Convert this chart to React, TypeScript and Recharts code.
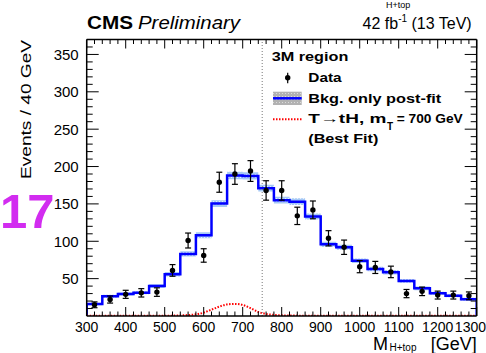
import React from 'react';
import {
  ComposedChart,
  Line,
  Area,
  Scatter,
  ErrorBar,
  XAxis,
  YAxis,
  ReferenceLine,
} from 'recharts';

// bin edges: 300 .. 1300 GeV, 40 GeV wide
const binLow = [300, 340, 380, 420, 460, 500, 540, 580, 620, 660, 700, 740, 780, 820, 860, 900, 940, 980, 1020, 1060, 1100, 1140, 1180, 1220, 1260];
const bkgPostFit = [16, 26.5, 29.5, 31, 40, 56, 83, 108, 150.5, 188, 187.5, 171, 155, 153, 133, 96, 92, 74, 63, 58.5, 47, 37, 30.5, 27, 22.5];
const bkgUnc = [1.5, 2, 2, 2, 2.5, 3, 3.5, 4, 4.5, 5, 5, 4.5, 4.5, 4.5, 4, 3.5, 3.5, 3, 3, 3, 2.5, 2.5, 2, 2, 2];

const dataX = [320, 360, 400, 440, 480, 520, 560, 600, 640, 680, 720, 760, 800, 840, 880, 920, 960, 1000, 1040, 1080, 1120, 1160, 1200, 1240, 1280];
const dataY = [15, 22, 29, 31, 32, 61, 101, 81, 179, 190, 194, 168, 168, 134, 142, 104, 92, 66, 65, 59, 30, 33, 28, 28, 27];
const dataErr = [3.9, 4.7, 5.4, 5.6, 5.7, 7.8, 10, 9, 13.4, 13.8, 13.9, 13, 13, 11.6, 11.9, 10.2, 9.6, 8.1, 8.1, 7.7, 5.5, 5.7, 5.3, 5.3, 5.2];

const sigX = [300, 340, 380, 420, 460, 500, 520, 540, 560, 580, 600, 620, 640, 660, 680, 700, 720, 740, 760, 780, 800, 820, 840, 880, 940, 1000, 1100, 1200, 1300];
const sigY = [0.3, 0.3, 0.3, 0.3, 0.3, 0.4, 0.5, 0.7, 1.3, 2.3, 4.5, 8.5, 12.5, 15.5, 16.2, 14.8, 10.5, 5.5, 2.8, 1.5, 0.9, 0.6, 0.5, 0.4, 0.3, 0.3, 0.3, 0.3, 0.3];

const xMajor = [300, 400, 500, 600, 700, 800, 900, 1000, 1100, 1200, 1300];
const xTicks = Array.from({ length: 51 }, (_, i) => 300 + i * 20);
const yTicks = Array.from({ length: 36 }, (_, i) => 10 + i * 10);

const FONT = "'Liberation Sans', Arial, Helvetica, sans-serif";

const histRows = binLow.map((x, i) => ({ x, y: bkgPostFit[i], lo: bkgPostFit[i] - bkgUnc[i], hi: bkgPostFit[i] + bkgUnc[i] }));
const last = histRows[histRows.length - 1];
const bandRows = [...histRows, { ...last, x: 1300 }];
const lineRows = [{ x: 300, y: 0 }, ...bandRows, { x: 1300, y: 0 }];
const dataRows = dataX.map((x, i) => ({ x, y: dataY[i], err: dataErr[i] }));
const sigRows = sigX.map((x, i) => ({ x, y: sigY[i] }));

const XTickBottom = (p: any) => {
  const v = p.payload.value;
  const major = xMajor.includes(v);
  const isLast = v === 1300;
  return (
    <g>
      <line x1={p.x} x2={p.x} y1={p.y} y2={p.y - (major ? 9 : 4.5)} stroke="#000" strokeWidth={1} />
      {major && (
        <text
          x={isLast ? 486 : p.x}
          y={p.y + 16}
          textAnchor={isLast ? 'end' : 'middle'}
          fontSize={14}
          fontFamily={FONT}
          fill="#000"
        >
          {v}
        </text>
      )}
    </g>
  );
};

const XTickTop = (p: any) => {
  const major = xMajor.includes(p.payload.value);
  return <line x1={p.x} x2={p.x} y1={p.y} y2={p.y + (major ? 9 : 4.5)} stroke="#000" strokeWidth={1} />;
};

const YTickLeft = (p: any) => {
  const v = p.payload.value;
  const major = v % 50 === 0;
  return (
    <g>
      <line x1={p.x} x2={p.x + (major ? 12 : 6)} y1={p.y} y2={p.y} stroke="#000" strokeWidth={1} />
      {major && (
        <text x={p.x - 8} y={p.y + 5.5} textAnchor="end" fontSize={15} fontFamily={FONT} fill="#000">
          {v}
        </text>
      )}
    </g>
  );
};

const YTickRight = (p: any) => {
  const major = p.payload.value % 50 === 0;
  return <line x1={p.x} x2={p.x - (major ? 12 : 6)} y1={p.y} y2={p.y} stroke="#000" strokeWidth={1} />;
};

const Dot = (p: any) => <circle cx={p.cx} cy={p.cy} r={2.7} fill="#000" />;

export default function App() {
  return (
    <div style={{ position: 'absolute', left: 0, top: 0, width: 486, height: 353, background: '#fff' }}>
      <ComposedChart width={486} height={353} margin={{ top: 0, right: 0, bottom: 0, left: 0 }}>
        <defs>
          <pattern id="bandFill" width="3" height="3" patternUnits="userSpaceOnUse">
            <rect width="3" height="3" fill="#a6c9f6" />
            <rect x="0" y="0" width="1" height="1" fill="#e4eefc" />
          </pattern>
        </defs>
        <XAxis
          dataKey="x"
          type="number"
          domain={[300, 1300]}
          ticks={xTicks}
          interval={0}
          allowDataOverflow
          height={37}
          tickSize={0}
          tickMargin={0}
          tickLine={false}
          tick={XTickBottom}
          axisLine={{ stroke: '#000', strokeWidth: 1.5 }}
        />
        <XAxis
          xAxisId="top"
          orientation="top"
          dataKey="x"
          type="number"
          domain={[300, 1300]}
          ticks={xTicks}
          interval={0}
          allowDataOverflow
          height={39.5}
          tickSize={0}
          tickMargin={0}
          tickLine={false}
          tick={XTickTop}
          axisLine={{ stroke: '#000', strokeWidth: 1.5 }}
        />
        <YAxis
          dataKey="y"
          type="number"
          domain={[0, 370]}
          ticks={yTicks}
          interval={0}
          allowDataOverflow
          width={86.7}
          tickSize={0}
          tickMargin={0}
          tickLine={false}
          tick={YTickLeft}
          axisLine={{ stroke: '#000', strokeWidth: 1.5 }}
        />
        <YAxis
          yAxisId="right"
          orientation="right"
          dataKey="y"
          type="number"
          domain={[0, 370]}
          ticks={yTicks}
          interval={0}
          allowDataOverflow
          width={9.3}
          tickSize={0}
          tickMargin={0}
          tickLine={false}
          tick={YTickRight}
          axisLine={{ stroke: '#000', strokeWidth: 1.5 }}
        />
        <Area
          data={bandRows}
          dataKey={(d: any) => [d.lo, d.hi]}
          type="stepAfter"
          stroke="none"
          fill="url(#bandFill)"
          fillOpacity={1}
          isAnimationActive={false}
        />
        <Line
          data={lineRows}
          dataKey="y"
          type="stepAfter"
          stroke="#0000ff"
          strokeWidth={2.5}
          dot={false}
          isAnimationActive={false}
        />
        <Line
          data={sigRows}
          dataKey="y"
          type="monotone"
          stroke="#ff0000"
          strokeWidth={2}
          strokeDasharray="1.5 1.5"
          dot={false}
          isAnimationActive={false}
        />
        <ReferenceLine x={750} stroke="#777" strokeDasharray="1 2" strokeWidth={1} />
        <Scatter data={dataRows} dataKey="y" shape={Dot} isAnimationActive={false}>
          <ErrorBar dataKey="err" direction="y" width={3} stroke="#000" strokeWidth={1.2} />
        </Scatter>
      </ComposedChart>

      <svg
        width={486}
        height={353}
        style={{ position: 'absolute', left: 0, top: 0, pointerEvents: 'none' }}
        fontFamily={FONT}
      >
        <defs>
          <pattern id="grayFill" width="3" height="3" patternUnits="userSpaceOnUse">
            <rect width="3" height="3" fill="#b2b2b2" />
            <rect x="0" y="0" width="1" height="1" fill="#dcdcdc" />
          </pattern>
        </defs>
        <text x={386} y={8} fontSize={9}>H+top</text>
        <text x={87} y={29.3} fontSize={18} fontWeight="bold" textLength={46} lengthAdjust="spacingAndGlyphs">CMS</text>
        <text x={138} y={29.3} fontSize={18} fontStyle="italic" textLength={102} lengthAdjust="spacingAndGlyphs">Preliminary</text>
        <text x={471.7} y={29.3} fontSize={16} textAnchor="end">
          42 fb<tspan fontSize={10} dy={-7}>-1</tspan>
          <tspan dy={7}> (13 TeV)</tspan>
        </text>
        <text
          x={30.5}
          y={179}
          fontSize={15}
          transform="rotate(-90 30.5 179)"
          textLength={139}
          lengthAdjust="spacingAndGlyphs"
        >
          Events / 40 GeV
        </text>
        <text x={0} y={228} fontSize={49} fontWeight="bold" fill="#d22cf0">17</text>

        <text x={373} y={350} fontSize={18}>M</text>
        <text x={389.5} y={351} fontSize={10}>H+top</text>
        <text x={476.7} y={350} fontSize={18} textAnchor="end">[GeV]</text>

        <text x={271.7} y={60.7} fontSize={13.5} fontWeight="bold" textLength={76.7} lengthAdjust="spacingAndGlyphs">3M region</text>
        <line x1={287.7} x2={287.7} y1={72.7} y2={83.3} stroke="#000" strokeWidth={1.2} />
        <circle cx={287.7} cy={77.7} r={2.7} fill="#000" />
        <text x={308.3} y={81.7} fontSize={13.5} fontWeight="bold" textLength={33.3} lengthAdjust="spacingAndGlyphs">Data</text>
        <rect x={273} y={91.7} width={28.7} height={13.3} fill="url(#grayFill)" />
        <line x1={273} x2={301.7} y1={98.3} y2={98.3} stroke="#0000ff" strokeWidth={2.5} />
        <text x={308.3} y={102.7} fontSize={13.5} fontWeight="bold" textLength={133} lengthAdjust="spacingAndGlyphs">Bkg. only post-fit</text>
        <line x1={273} x2={301.7} y1={119.3} y2={119.3} stroke="#ff0000" strokeWidth={2} strokeDasharray="1.5 1.5" />
        <text x={308.3} y={123.3} fontSize={13.5} fontWeight="bold" textLength={78} lengthAdjust="spacingAndGlyphs">T→tH, m</text>
        <text x={387} y={129.5} fontSize={10} fontWeight="bold">T</text>
        <text x={396.7} y={123.3} fontSize={13.5} fontWeight="bold" textLength={66} lengthAdjust="spacingAndGlyphs">= 700 GeV</text>
        <text x={308.3} y={143.3} fontSize={13.5} fontWeight="bold" textLength={70} lengthAdjust="spacingAndGlyphs">(Best Fit)</text>
      </svg>
    </div>
  );
}
